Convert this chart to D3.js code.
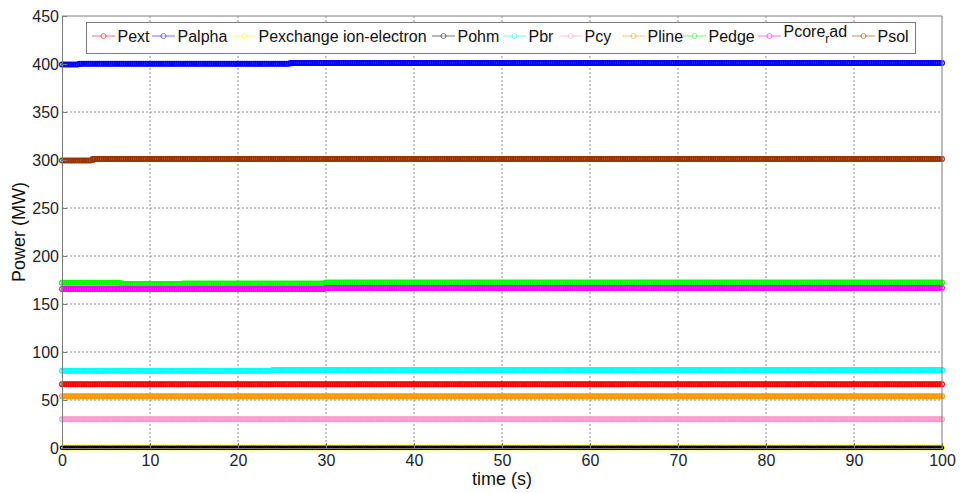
<!DOCTYPE html>
<html>
<head>
<meta charset="utf-8">
<script src="https://cdn.jsdelivr.net/npm/d3@7"></script>
<style>
  html, body { margin: 0; padding: 0; background: #fff; }
  svg { display: block; font-family: "Liberation Sans", Arial, sans-serif; }
</style>
</head>
<body>
<svg id="chart" width="960" height="493"></svg>
<script>
// ---- data ----
const seriesNames = ["Pext", "Palpha", "Pexchange ion-electron", "Pohm", "Pbr", "Pcy", "Pline", "Pedge", "Pcore_rad", "Psol"];
const seriesColors = ["#ff0000", "#0000ff", "#ffff00", "#000000", "#00ffff", "#ff99cc", "#ff9900", "#00ff00", "#ff00ff", "#993300"];
// piecewise-constant levels: [start time, value]
const PextSteps     = [[0, 66.5]];
const PalphaSteps   = [[0, 399.5], [2, 400.3], [26, 401]];
const PexchSteps    = [[0, 0.6]];
const PohmSteps     = [[0, 0.3]];
const PbrSteps      = [[0, 80.5], [24, 81.2]];
const PcySteps      = [[0, 30]];
const PlineSteps    = [[0, 54]];
const PedgeSteps    = [[0, 172.2], [6.6, 170.8], [13.6, 171.4], [30, 172.5]];
const PcoreSteps    = [[0, 165.6], [30, 166.6]];
const PsolSteps     = [[0, 299.4], [3.3, 301]];
const allSteps = [PextSteps, PalphaSteps, PexchSteps, PohmSteps, PbrSteps, PcySteps, PlineSteps, PedgeSteps, PcoreSteps, PsolSteps];
const xTicks = [0, 10, 20, 30, 40, 50, 60, 70, 80, 90, 100];
const yTicks = [0, 50, 100, 150, 200, 250, 300, 350, 400, 450];
const sampleStep = 0.25; // simulation output interval (s)

// ---- layout ----
const svg = d3.select("#chart");
const m = { left: 62, right: 942, top: 16, bottom: 448 };
const x = d3.scaleLinear().domain([0, 100]).range([m.left, m.right]);
const y = d3.scaleLinear().domain([0, 450]).range([m.bottom, m.top]);

const times = d3.range(0, 100 + 1e-9, sampleStep);
function valueAt(steps, t) {
  let v = steps[0][1];
  for (const s of steps) if (t >= s[0]) v = s[1];
  return v;
}
const series = seriesNames.map((name, i) => ({
  name, color: seriesColors[i],
  points: times.map(t => ({ t, v: valueAt(allSteps[i], t) }))
}));

// grid
const grid = svg.append("g");
grid.selectAll("line.gx").data(xTicks.slice(1, -1)).join("line")
  .attr("x1", d => x(d)).attr("x2", d => x(d)).attr("y1", m.top).attr("y2", m.bottom)
  .attr("stroke", "#8c8c8c").attr("stroke-width", 1).attr("stroke-dasharray", "2,2");
grid.selectAll("line.gy").data(yTicks.slice(1, -1)).join("line")
  .attr("y1", d => y(d)).attr("y2", d => y(d)).attr("x1", m.left).attr("x2", m.right)
  .attr("stroke", "#8c8c8c").attr("stroke-width", 1).attr("stroke-dasharray", "2,2");

// series
const line = d3.line().x(d => x(d.t)).y(d => y(d.v)).curve(d3.curveStepAfter);
const sg = svg.append("g");
series.forEach(s => {
  const g = sg.append("g");
  const thin = s.name === "Pohm";
  g.append("path").datum(s.points).attr("d", line)
    .attr("fill", "none").attr("stroke", s.color).attr("stroke-width", thin ? 3 : 5).attr("opacity", 0.75);
  g.selectAll("circle").data(s.points).join("circle")
    .attr("cx", d => x(d.t)).attr("cy", d => y(d.v)).attr("r", thin ? 1.6 : 2.4)
    .attr("fill", "none").attr("stroke", s.color).attr("stroke-width", 1.2);
});

// axes (MATLAB style: ticks inside, box)
const axisColor = "#7a7a7a";
const xAxis = svg.append("g").attr("transform", `translate(0,${m.bottom})`)
  .call(d3.axisBottom(x).tickValues(xTicks).tickSizeInner(-5).tickSizeOuter(0).tickPadding(7));
const yAxis = svg.append("g").attr("transform", `translate(${m.left},0)`)
  .call(d3.axisLeft(y).tickValues(yTicks).tickSizeInner(-5).tickSizeOuter(0).tickPadding(3));
[xAxis, yAxis].forEach(a => {
  a.select(".domain").attr("stroke", axisColor);
  a.selectAll(".tick line").attr("stroke", axisColor);
  a.selectAll(".tick text").attr("fill", "#222").style("font-size", "16px")
    .style("font-family", "'Liberation Sans', Arial, sans-serif");
});
svg.append("line").attr("x1", m.left).attr("x2", m.right).attr("y1", m.top).attr("y2", m.top).attr("stroke", axisColor);
svg.append("line").attr("x1", m.right).attr("x2", m.right).attr("y1", m.top).attr("y2", m.bottom).attr("stroke", axisColor);

// axis titles
svg.append("text").attr("x", (m.left + m.right) / 2).attr("y", 485)
  .attr("text-anchor", "middle").style("font-size", "18px").attr("fill", "#111").text("time (s)");
svg.append("text").attr("transform", `translate(25,${(m.top + m.bottom) / 2}) rotate(-90)`)
  .attr("text-anchor", "middle").style("font-size", "18px").attr("fill", "#111").text("Power (MW)");

// legend
const legX = [92, 152, 233, 432, 503, 559, 622, 683, 758, 852];
const lg = svg.append("g");
lg.append("rect").attr("x", 86.5).attr("y", 22.5).attr("width", 829).attr("height", 31)
  .attr("fill", "#fff").attr("stroke", "#7a7a7a");
const legendY = 36;
series.forEach((s, i) => {
  const g = lg.append("g").attr("transform", `translate(${legX[i]},${legendY})`);
  g.append("line").attr("x1", 0).attr("x2", 23).attr("stroke", s.color).attr("stroke-width", 1).attr("opacity", 0.55);
  g.append("circle").attr("cx", 11.5).attr("r", 2.5).attr("fill", "#fff").attr("stroke", s.color).attr("opacity", 0.55);
  const t = g.append("text").attr("x", 25.5).attr("y", 6).style("font-size", "16px").attr("fill", "#111");
  if (s.name === "Pcore_rad") {
    t.append("tspan").text("Pcore");
    t.append("tspan").attr("dy", 6).style("font-size", "12px").text("r");
    t.append("tspan").attr("dy", -6).text("ad");
    t.attr("y", 1);
  } else {
    t.text(s.name);
  }
});
</script>
</body>
</html>
